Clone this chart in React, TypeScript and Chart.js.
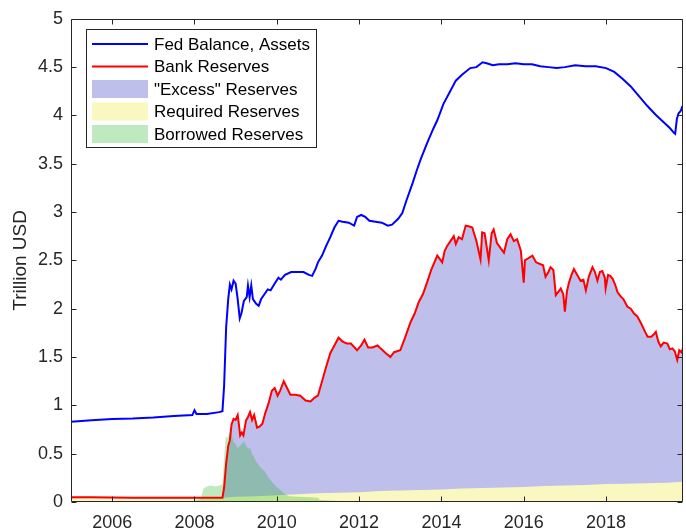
import React, { useEffect, useRef } from "react";
import { Chart, registerables } from "chart.js";

Chart.register(...registerables);

// ---------- data (decimal years, trillion USD) ----------
const fedDates = [
  2005.0, 2005.5, 2006.0, 2006.5, 2007.0, 2007.5, 2007.95, 2008.0, 2008.05, 2008.3, 2008.6, 2008.68,
  2008.72, 2008.77, 2008.82, 2008.86, 2008.9, 2008.95, 2009.0, 2009.05, 2009.1, 2009.14, 2009.2,
  2009.27, 2009.3, 2009.34, 2009.38, 2009.42, 2009.5, 2009.56, 2009.62, 2009.7, 2009.78, 2009.85,
  2009.95, 2010.04, 2010.1, 2010.2, 2010.35, 2010.5, 2010.65, 2010.78, 2010.86, 2010.95, 2011.0,
  2011.1, 2011.2, 2011.3, 2011.4, 2011.5, 2011.6, 2011.75, 2011.88, 2011.95, 2012.05, 2012.15,
  2012.25, 2012.4, 2012.55, 2012.7, 2012.8, 2012.95, 2013.05, 2013.15, 2013.3, 2013.4, 2013.5,
  2013.65, 2013.8, 2013.9, 2014.05, 2014.2, 2014.35, 2014.5, 2014.7, 2014.85, 2015.0, 2015.1,
  2015.25, 2015.4, 2015.6, 2015.8, 2016.0, 2016.2, 2016.4, 2016.6, 2016.8, 2017.0, 2017.25,
  2017.5, 2017.75, 2018.0, 2018.2, 2018.4, 2018.6, 2018.8, 2019.0, 2019.2, 2019.4, 2019.55,
  2019.65, 2019.68, 2019.72, 2019.76, 2019.82, 2019.85, 2019.87,
];
const fedValues = [
  0.83, 0.845, 0.86, 0.865, 0.875, 0.89, 0.9, 0.95, 0.91, 0.91, 0.93, 0.94,
  1.2, 1.81, 2.1, 2.25, 2.2, 2.29, 2.26, 2.1, 1.9, 1.95, 2.08,
  2.12, 2.24, 2.12, 2.24, 2.1, 2.05, 2.03, 2.1, 2.15, 2.2, 2.19,
  2.26, 2.32, 2.3, 2.35, 2.38, 2.38, 2.38, 2.35, 2.34, 2.42, 2.48,
  2.55, 2.65, 2.74, 2.84, 2.91, 2.9, 2.89, 2.86, 2.95, 2.97, 2.95,
  2.91, 2.9, 2.89, 2.86, 2.87, 2.93, 2.99, 3.12, 3.3, 3.43, 3.55,
  3.71, 3.86, 3.95, 4.12, 4.24, 4.36, 4.42, 4.49, 4.5, 4.55, 4.54,
  4.52, 4.53, 4.53, 4.54, 4.53, 4.53, 4.51, 4.5, 4.49, 4.5, 4.52,
  4.51, 4.51, 4.49, 4.45, 4.38, 4.3, 4.2, 4.1, 4.01, 3.93, 3.87,
  3.82, 3.81, 3.96, 4.02, 4.05, 4.09, 4.09,
];

const reserveDates = [
  2005.0, 2005.5, 2006.0, 2006.5, 2007.0, 2007.5, 2008.0, 2008.5, 2008.68, 2008.72, 2008.77,
  2008.82, 2008.86, 2008.9, 2008.95, 2009.0, 2009.05, 2009.08, 2009.11, 2009.15, 2009.19, 2009.25,
  2009.3, 2009.35, 2009.4, 2009.45, 2009.52, 2009.58, 2009.65, 2009.72, 2009.8, 2009.88, 2009.95,
  2010.02, 2010.08, 2010.17, 2010.25, 2010.33, 2010.45, 2010.57, 2010.7, 2010.82, 2010.92, 2011.0,
  2011.1, 2011.2, 2011.3, 2011.4, 2011.5, 2011.6, 2011.7, 2011.8, 2011.95, 2012.05, 2012.13,
  2012.22, 2012.32, 2012.45, 2012.52, 2012.65, 2012.76, 2012.85, 2013.0, 2013.1, 2013.25, 2013.35,
  2013.45, 2013.55, 2013.65, 2013.75, 2013.9, 2014.02, 2014.08, 2014.14, 2014.22, 2014.3, 2014.35,
  2014.42, 2014.5, 2014.59, 2014.68, 2014.75, 2014.85, 2014.95, 2014.99, 2015.05, 2015.15, 2015.22,
  2015.27, 2015.35, 2015.45, 2015.52, 2015.6, 2015.68, 2015.76, 2015.84, 2015.93, 2016.0, 2016.03,
  2016.1, 2016.21, 2016.3, 2016.41, 2016.47, 2016.53, 2016.6, 2016.65, 2016.72, 2016.78, 2016.85,
  2016.9, 2016.96, 2017.0, 2017.05, 2017.1, 2017.16, 2017.22, 2017.3, 2017.38, 2017.45, 2017.51,
  2017.58, 2017.67, 2017.73, 2017.79, 2017.85, 2017.91, 2017.97, 2017.99, 2018.05, 2018.1, 2018.16,
  2018.22, 2018.28, 2018.35, 2018.42, 2018.52, 2018.6, 2018.68, 2018.76, 2018.85, 2018.95, 2019.01,
  2019.1, 2019.15, 2019.21, 2019.27, 2019.33, 2019.4, 2019.49, 2019.55, 2019.61, 2019.67, 2019.73,
  2019.78, 2019.83, 2019.87,
];
const reserveValues = [
  0.05, 0.048, 0.047, 0.045, 0.045, 0.045, 0.045, 0.045, 0.045, 0.15, 0.4,
  0.58, 0.64, 0.8, 0.86, 0.85, 0.9, 0.8, 0.69, 0.72, 0.69, 0.84,
  0.88, 0.93, 0.85, 0.9, 0.77, 0.78, 0.81, 0.92, 1.02, 1.15, 1.18,
  1.1, 1.15, 1.25, 1.18, 1.11, 1.11, 1.1, 1.05, 1.04, 1.08, 1.1,
  1.25, 1.4, 1.54, 1.62, 1.7, 1.66, 1.64, 1.64, 1.57, 1.62, 1.68,
  1.6, 1.6, 1.62, 1.59, 1.54, 1.5, 1.55, 1.57, 1.68, 1.86, 1.95,
  2.07, 2.15, 2.27, 2.4, 2.55, 2.48, 2.6, 2.65, 2.7, 2.75, 2.67,
  2.74, 2.72, 2.86, 2.85, 2.84, 2.7, 2.51, 2.79, 2.78, 2.5, 2.78,
  2.82, 2.68, 2.62, 2.58, 2.72, 2.77, 2.7, 2.72, 2.6, 2.27, 2.5,
  2.52, 2.55, 2.48, 2.46, 2.45, 2.33, 2.38, 2.43, 2.4, 2.14, 2.18,
  2.21, 2.15, 1.97, 2.18, 2.27, 2.35, 2.41, 2.35, 2.29, 2.3, 2.19,
  2.33, 2.43, 2.38, 2.29, 2.38, 2.39, 2.32, 2.21, 2.35, 2.34, 2.31,
  2.25, 2.17, 2.13, 2.1, 2.02, 2.0, 1.95, 1.92, 1.85, 1.76, 1.71,
  1.71, 1.73, 1.76, 1.66, 1.61, 1.65, 1.64, 1.58, 1.59, 1.56, 1.47,
  1.57, 1.55, 1.59,
];

const requiredDates = [
  2005.0, 2006.0, 2007.0, 2008.0, 2008.7, 2009.0, 2009.5, 2010.0, 2010.5, 2011.0, 2011.5, 2012.0,
  2012.5, 2013.0, 2013.5, 2014.0, 2014.5, 2015.0, 2015.5, 2016.0, 2016.5, 2017.0, 2017.5, 2018.0,
  2018.5, 2019.0, 2019.5, 2019.87,
];
const requiredValues = [
  0.04, 0.04, 0.04, 0.04, 0.045, 0.055, 0.06, 0.07, 0.08, 0.09, 0.095, 0.1,
  0.115, 0.12, 0.125, 0.13, 0.14, 0.145, 0.15, 0.155, 0.165, 0.17, 0.175, 0.185,
  0.19, 0.195, 0.2, 0.21,
];

const borrowedDates = [
  2005.0, 2007.6, 2007.95, 2008.15, 2008.22, 2008.3, 2008.4, 2008.5, 2008.6, 2008.68, 2008.72,
  2008.76, 2008.8, 2008.85, 2008.9, 2008.95, 2009.0, 2009.05, 2009.1, 2009.15, 2009.2, 2009.25,
  2009.3, 2009.35, 2009.4, 2009.45, 2009.5, 2009.6, 2009.7, 2009.8, 2009.9, 2010.0, 2010.1,
  2010.2, 2010.3, 2010.5, 2010.8, 2011.0, 2011.05, 2011.5, 2012.0, 2013.0, 2019.87,
];
const borrowedValues = [
  0.0, 0.0, 0.01, 0.03, 0.14, 0.16, 0.17, 0.16, 0.17, 0.18, 0.45,
  0.68, 0.66, 0.72, 0.7, 0.62, 0.6, 0.56, 0.58, 0.6, 0.63, 0.59,
  0.55, 0.56, 0.5, 0.46, 0.42, 0.36, 0.32, 0.25, 0.2, 0.155, 0.12,
  0.08, 0.06, 0.055, 0.05, 0.045, 0.02, 0.01, 0.005, 0.003, 0.003,
];

const xTicks = [2006, 2008, 2010, 2012, 2014, 2016, 2018];
const yTicks = [0, 0.5, 1, 1.5, 2, 2.5, 3, 3.5, 4, 4.5, 5];
const seriesLabels = [
  "Fed Balance, Assets",
  "Bank Reserves",
  "\"Excess\" Reserves",
  "Required Reserves",
  "Borrowed Reserves",
];
const yAxisTitle = "Trillion USD";

// ---------- styling ----------
const AXIS = "#262626";
const FONT = "'Liberation Sans', Arial, Helvetica, sans-serif";
const BLUE = "#0000ff";
const RED = "#ff0000";
const LAVENDER = "#bfbfeb";
const YELLOW = "#f8f8c0";
const GREEN = "rgba(0,170,0,0.25)";

const pts = (xs: number[], ys: number[]) => xs.map((x, i) => ({ x, y: ys[i] }));

const boxTicksPlugin = {
  id: "boxTicks",
  afterDatasetsDraw(chart: any) {
    const { ctx, chartArea: a, scales } = chart;
    const L = Math.round(a.left) + 0.5;
    const R = Math.round(a.right) - 0.5;
    const T = Math.round(a.top) + 0.5;
    const B = Math.round(a.bottom) - 0.5;
    ctx.save();
    ctx.strokeStyle = AXIS;
    ctx.lineWidth = 1;
    ctx.beginPath();
    ctx.rect(L, T, R - L, B - T);
    const tl = 5;
    xTicks.forEach((v) => {
      const px = Math.round(scales.x.getPixelForValue(v)) + 0.5;
      ctx.moveTo(px, B);
      ctx.lineTo(px, B - tl);
      ctx.moveTo(px, T);
      ctx.lineTo(px, T + tl);
    });
    yTicks.forEach((v) => {
      const py = Math.round(scales.y.getPixelForValue(v)) + 0.5;
      ctx.moveTo(L, py);
      ctx.lineTo(L + tl, py);
      ctx.moveTo(R, py);
      ctx.lineTo(R - tl, py);
    });
    ctx.stroke();
    ctx.restore();
  },
};

const legendPlugin = {
  id: "boxLegend",
  afterDraw(chart: any) {
    const { ctx } = chart;
    const x0 = 86.5, y0 = 29.5, w = 230, h = 118;
    ctx.save();
    ctx.fillStyle = "#ffffff";
    ctx.fillRect(x0, y0, w, h);
    ctx.strokeStyle = AXIS;
    ctx.lineWidth = 1;
    ctx.strokeRect(x0, y0, w, h);
    const rows = [44, 66.5, 89, 111.5, 134];
    ctx.font = `17px ${FONT}`;
    ctx.textBaseline = "middle";
    ctx.textAlign = "left";
    chart.data.datasets.forEach((ds: any, i: number) => {
      const y = rows[i];
      if (ds.fill) {
        ctx.fillStyle = ds.backgroundColor;
        ctx.fillRect(92, y - 9, 56, 18);
      } else {
        ctx.strokeStyle = ds.borderColor;
        ctx.lineWidth = 2;
        ctx.beginPath();
        ctx.moveTo(92, y);
        ctx.lineTo(148, y);
        ctx.stroke();
      }
      ctx.fillStyle = "#000000";
      ctx.fillText(ds.label, 154, y + 1);
    });
    ctx.restore();
  },
};

export default function App() {
  const ref = useRef<HTMLCanvasElement | null>(null);

  useEffect(() => {
    if (!ref.current) return;
    const chart = new Chart(ref.current, {
      type: "line",
      data: {
        datasets: [
          {
            label: seriesLabels[0],
            data: pts(fedDates, fedValues),
            borderColor: BLUE,
            borderWidth: 2,
            pointRadius: 0,
            fill: false,
            order: 0,
          },
          {
            label: seriesLabels[1],
            data: pts(reserveDates, reserveValues),
            borderColor: RED,
            borderWidth: 2,
            pointRadius: 0,
            fill: false,
            order: 1,
          },
          {
            label: seriesLabels[2],
            data: pts(reserveDates, reserveValues),
            borderWidth: 0,
            borderColor: "rgba(0,0,0,0)",
            backgroundColor: LAVENDER,
            pointRadius: 0,
            fill: "origin",
            order: 4,
          },
          {
            label: seriesLabels[3],
            data: pts(requiredDates, requiredValues),
            borderWidth: 0,
            borderColor: "rgba(0,0,0,0)",
            backgroundColor: YELLOW,
            pointRadius: 0,
            fill: "origin",
            order: 3,
          },
          {
            label: seriesLabels[4],
            data: pts(borrowedDates, borrowedValues),
            borderWidth: 0,
            borderColor: "rgba(0,0,0,0)",
            backgroundColor: GREEN,
            pointRadius: 0,
            fill: "origin",
            order: 2,
          },
        ] as any,
      },
      options: {
        animation: false,
        responsive: false,
        maintainAspectRatio: false,
        devicePixelRatio: 1,
        layout: { padding: { top: 14, right: 3, left: 0, bottom: 0 } },
        elements: { line: { tension: 0 } },
        plugins: {
          legend: { display: false },
          tooltip: { enabled: false },
        },
        scales: {
          x: {
            type: "linear",
            min: 2005,
            max: 2019.87,
            grid: { display: false, drawTicks: false },
            border: { display: false },
            afterBuildTicks: (s: any) => {
              s.ticks = xTicks.map((v) => ({ value: v }));
            },
            afterFit: (s: any) => {
              s.height = 30;
            },
            ticks: {
              padding: 10,
              color: AXIS,
              font: { family: FONT, size: 18 },
              maxRotation: 0,
              autoSkip: false,
              callback: (v: any) => String(v),
            },
          },
          y: {
            type: "linear",
            min: 0,
            max: 5,
            grid: { display: false, drawTicks: false },
            border: { display: false },
            afterBuildTicks: (s: any) => {
              s.ticks = yTicks.map((v) => ({ value: v }));
            },
            afterFit: (s: any) => {
              s.width = 71;
            },
            ticks: {
              padding: 8,
              color: AXIS,
              font: { family: FONT, size: 18 },
              callback: (v: any) => String(v),
            },
            title: {
              display: true,
              text: yAxisTitle,
              color: AXIS,
              font: { family: FONT, size: 19 },
              padding: { top: 9, bottom: 0 },
            },
          },
        },
      },
      plugins: [boxTicksPlugin, legendPlugin],
    });
    return () => chart.destroy();
  }, []);

  return (
    <div style={{ position: "fixed", left: 0, top: 0, width: 686, height: 532, background: "#fff" }}>
      <canvas ref={ref} width={686} height={532} style={{ display: "block" }} />
    </div>
  );
}
